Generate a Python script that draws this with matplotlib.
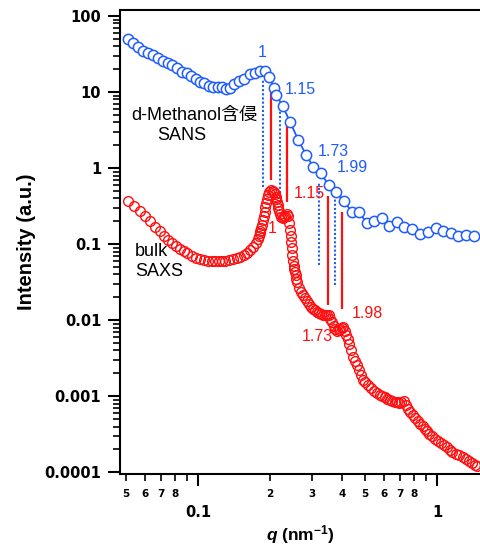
import matplotlib
matplotlib.use("Agg")
import matplotlib.pyplot as plt
from matplotlib.ticker import FixedLocator, FixedFormatter, NullFormatter

plt.rcParams['font.family'] = ['Liberation Sans', 'Noto Sans CJK JP', 'DejaVu Sans']
plt.rcParams['mathtext.fontset'] = 'custom'
plt.rcParams['mathtext.it'] = 'Liberation Sans:italic:bold'
plt.rcParams['mathtext.rm'] = 'Liberation Sans:bold'
plt.rcParams['mathtext.bf'] = 'Liberation Sans:bold'

BLUE = '#1f5cff'
RED = '#ff0f0f'

# SANS, d-Methanol
sans_q = [0.0511, 0.0536, 0.0563, 0.0590, 0.0619, 0.0650, 0.0682, 0.0716, 0.0751, 0.0781,
          0.0814, 0.0855, 0.0897, 0.0935, 0.0978, 0.102, 0.1063, 0.1112, 0.1159, 0.1209,
          0.1264, 0.131, 0.136, 0.142, 0.149, 0.156, 0.165, 0.173, 0.1816, 0.1907,
          0.1987, 0.2086, 0.2127, 0.2261, 0.2427, 0.2629, 0.283, 0.3037, 0.326, 0.352,
          0.378, 0.408, 0.440, 0.473, 0.508, 0.547, 0.590, 0.631, 0.678, 0.730,
          0.788, 0.849, 0.914, 0.988, 1.063, 1.141, 1.228, 1.322, 1.428]
sans_I = [49.3, 43.7, 39.5, 34.9, 32.3, 30.7, 27.7, 25.8, 23.9, 22.7,
          20.5, 18.5, 17.6, 16.3, 14.7, 13.7, 13.0, 12.0, 11.7, 11.7,
          11.5, 10.9, 11.2, 12.6, 14.1, 14.7, 17.3, 17.9, 19.1, 19.1,
          15.6, 11.2, 9.14, 6.55, 4.07, 2.33, 1.51, 1.04, 0.867, 0.597,
          0.488, 0.368, 0.266, 0.261, 0.191, 0.201, 0.218, 0.173, 0.197, 0.169,
          0.156, 0.135, 0.143, 0.164, 0.150, 0.141, 0.127, 0.134, 0.129]

# SAXS, bulk
saxs_q = [0.051, 0.054, 0.057, 0.060, 0.063, 0.066, 0.069, 0.072, 0.075, 0.078,
          0.081, 0.084, 0.087, 0.090, 0.094, 0.098, 0.102, 0.106, 0.110, 0.114,
          0.118, 0.122, 0.126, 0.130, 0.135, 0.140, 0.145, 0.150, 0.155, 0.160,
          0.165, 0.170, 0.175, 0.178, 0.1795, 0.181, 0.1825, 0.184, 0.1855, 0.187,
          0.1885, 0.190, 0.1915, 0.193, 0.1945, 0.196, 0.199, 0.202, 0.205, 0.208,
          0.2095, 0.211, 0.2125, 0.214, 0.2155, 0.217, 0.2185, 0.220, 0.223, 0.226,
          0.229, 0.232, 0.235, 0.238, 0.241, 0.2425, 0.244, 0.2455, 0.247, 0.2485,
          0.250, 0.2515, 0.253, 0.2545, 0.256, 0.258, 0.260, 0.265, 0.270, 0.275,
          0.280, 0.286, 0.292, 0.298, 0.304, 0.310, 0.316, 0.322, 0.328, 0.334,
          0.340, 0.346, 0.352, 0.358, 0.364, 0.370, 0.376, 0.382, 0.388, 0.394,
          0.400, 0.406, 0.412, 0.418, 0.424, 0.430, 0.438, 0.446, 0.454, 0.462,
          0.470, 0.480, 0.490, 0.500, 0.515, 0.530, 0.545, 0.560, 0.575, 0.590,
          0.605, 0.620, 0.635, 0.650, 0.665, 0.680, 0.695, 0.710, 0.725, 0.740,
          0.755, 0.770, 0.790, 0.810, 0.830, 0.850, 0.870, 0.890, 0.910, 0.930,
          0.950, 0.980, 1.010, 1.040, 1.070, 1.100, 1.130, 1.160, 1.200, 1.240,
          1.280, 1.320, 1.360, 1.400, 1.440, 1.470]
saxs_I = [0.372, 0.318, 0.269, 0.232, 0.1995, 0.170, 0.148, 0.1294, 0.1135, 0.1033,
          0.0946, 0.0869, 0.0805, 0.0755, 0.0703, 0.0662, 0.0638, 0.0619, 0.0604, 0.0600,
          0.0597, 0.0597, 0.0598, 0.0607, 0.0619, 0.0638, 0.0659, 0.0684, 0.0719, 0.0769,
          0.0834, 0.0914, 0.1042, 0.1186, 0.128, 0.1387, 0.150, 0.1626, 0.181, 0.2065,
          0.235, 0.2655, 0.304, 0.3508, 0.397, 0.4426, 0.4875, 0.514, 0.498, 0.483,
          0.451, 0.4217, 0.391, 0.359, 0.329, 0.3006, 0.275, 0.249, 0.230, 0.2213,
          0.2249, 0.2339, 0.246, 0.2317, 0.189, 0.153, 0.128, 0.106, 0.0879, 0.0721,
          0.0592, 0.0521, 0.0476, 0.0434, 0.0398, 0.0353, 0.0321, 0.0269, 0.0235, 0.0214,
          0.0194, 0.0178, 0.0163, 0.01503, 0.01422, 0.01355, 0.01291, 0.01242, 0.0120, 0.01164,
          0.01178, 0.01189, 0.01175, 0.01047, 0.00938, 0.00849, 0.00769, 0.00723, 0.00745, 0.00767,
          0.00787, 0.00809, 0.00719, 0.00637, 0.00562, 0.00489, 0.00403, 0.00331, 0.00289, 0.00254,
          0.00222, 0.00191, 0.00166, 0.00154, 0.00139, 0.00128, 0.00119, 0.001114, 0.001042, 0.001000,
          0.000964, 0.000931, 0.000899, 0.000877, 0.000853, 0.000832, 0.000824, 0.000843, 0.000859, 0.000773,
          0.000676, 0.000618, 0.000562, 0.000512, 0.000471, 0.000434, 0.000401, 0.000372, 0.000347, 0.000322,
          0.000301, 0.000278, 0.000261, 0.000244, 0.000229, 0.000213, 0.000199, 0.000186, 0.000175, 0.000167,
          0.000159, 0.000150, 0.0001406, 0.0001327, 0.0001262, 0.0001213]

# peak position markers: q, bottom, top
sans_peaks_q = [0.187, 0.221, 0.3214, 0.375]
sans_peaks_lo = [0.567, 0.465, 0.053, 0.0289]
sans_peaks_hi = [14.4, 7.45, 0.641, 0.465]
saxs_peaks_q = [0.2026, 0.2363, 0.350, 0.4016]
saxs_peaks_lo = [0.695, 0.361, 0.0157, 0.01425]
saxs_peaks_hi = [12.4, 3.57, 0.428, 0.266]

# ratio labels: text, q, I, horizontal alignment
sans_labels = [("1", 0.1847, 33.3, 'center'), ("1.15", 0.2312, 10.8, 'left'),
               ("1.73", 0.3156, 1.64, 'left'), ("1.99", 0.3805, 1.01, 'left')]
saxs_labels = [("1", 0.2034, 0.161, 'center'), ("1.15", 0.2504, 0.465, 'left'),
               ("1.73", 0.2716, 0.00603, 'left'), ("1.98", 0.4396, 0.01225, 'left')]

fig = plt.figure(figsize=(4.81, 5.54), dpi=100)
ax = fig.add_axes([0.2495, 0.1444, 0.7505, 0.8384])
ax.set_xscale('log')
ax.set_yscale('log')
ax.set_xlim(0.04716, 1.528)
ax.set_ylim(9.5e-5, 121.8)

ax.plot(saxs_q, saxs_I, 'o', ms=7.0, mfc='none', mec=RED, mew=1.0, zorder=3)
ax.plot(sans_q, sans_I, 'o-', ms=7.4, mfc='white', mec=BLUE, color=BLUE, mew=1.1, lw=1.3, zorder=4)

ax.vlines(sans_peaks_q, sans_peaks_lo, sans_peaks_hi, colors=BLUE, linestyles=(0, (1, 1)), lw=1.5, zorder=2)
ax.vlines(saxs_peaks_q, saxs_peaks_lo, saxs_peaks_hi, colors=RED, lw=1.6, zorder=2)

for txt, q, i, ha in sans_labels:
    ax.text(q, i, txt, color=BLUE, fontsize=11.5, ha=ha, va='center', zorder=5)
for txt, q, i, ha in saxs_labels:
    ax.text(q, i, txt, color=RED, fontsize=11.5, ha=ha, va='center', zorder=5)

ax.text(0.0528, 4.98, "d-Methanol含侵", fontsize=13, va='center', ha='left')
ax.text(0.0674, 2.72, "SANS", fontsize=13, va='center', ha='left')
ax.text(0.0545, 0.0793, "bulk", fontsize=13, va='center', ha='left')
ax.text(0.0545, 0.0442, "SAXS", fontsize=13, va='center', ha='left')

# axes styling
for s in ['left', 'bottom', 'top']:
    ax.spines[s].set_linewidth(1.5)
ax.spines['right'].set_visible(False)

ytick_vals = [1e-4, 1e-3, 1e-2, 1e-1, 1, 10, 100]
ytick_text = ['0.0001', '0.001', '0.01', '0.1', '1', '10', '100']
ax.yaxis.set_major_locator(FixedLocator(ytick_vals))
ax.yaxis.set_major_formatter(FixedFormatter(ytick_text))
ax.yaxis.set_minor_formatter(NullFormatter())

xmajor = [0.1, 1]
xminor = [0.05, 0.06, 0.07, 0.08, 0.09, 0.2, 0.3, 0.4, 0.5, 0.6, 0.7, 0.8, 0.9]
xminor_text = ['5', '6', '7', '8', '', '2', '3', '4', '5', '6', '7', '8', '']
ax.xaxis.set_major_locator(FixedLocator(xmajor))
ax.xaxis.set_major_formatter(FixedFormatter(['0.1', '1']))
ax.xaxis.set_minor_locator(FixedLocator(xminor))
ax.xaxis.set_minor_formatter(FixedFormatter(xminor_text))

ax.tick_params(axis='both', which='both', direction='out', top=False, right=False)
ax.tick_params(axis='y', which='major', length=8.5, width=1.5, pad=5, labelsize=10.5)
ax.tick_params(axis='y', which='minor', length=5, width=1.2)
ax.tick_params(axis='x', which='major', length=8.5, width=1.5, pad=14, labelsize=10.5)
ax.tick_params(axis='x', which='minor', length=5, width=1.2, pad=6, labelsize=7.5)
for lab in ax.get_xticklabels(which='both') + ax.get_yticklabels():
    lab.set_fontweight('bold')
    lab.set_family('DejaVu Sans')

ax.set_ylabel("Intensity (a.u.)", fontsize=14.5, fontweight='bold', labelpad=6)
ax.set_xlabel(r"$q$ (nm$^{\mathrm{-1}}$)", fontsize=12.5, fontweight='bold', labelpad=2)

fig.savefig("out.png", dpi=100)
